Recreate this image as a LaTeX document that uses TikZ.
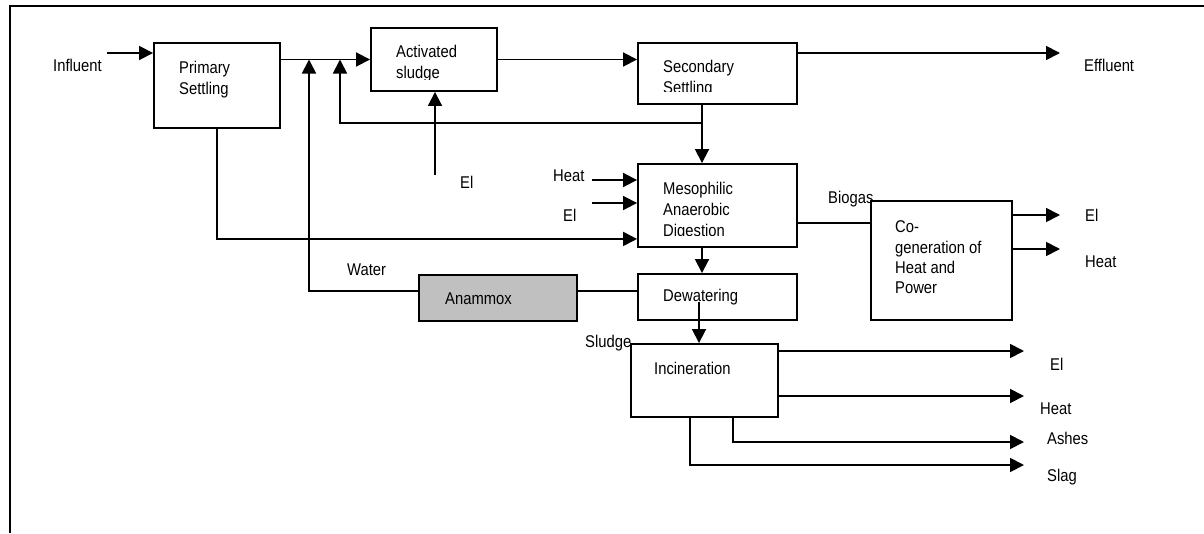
\documentclass[tikz,border=0pt]{standalone}
\usepackage{fontspec}
\setmainfont{Liberation Sans}[FakeStretch=0.87]
\usetikzlibrary{arrows.meta,positioning,calc}
\definecolor{anxFill}{HTML}{C0C0C0}

\begin{document}
\begin{tikzpicture}[x=1pt,y=-1pt,
  every node/.style={font=\fontsize{17}{21}\selectfont},
  box/.style={draw,line width=1.9pt,inner sep=0pt},
  txt/.style={anchor=west,align=left,inner sep=0pt},
  pipe/.style={line width=1.8pt},
  flow/.style={pipe,-{Triangle[length=14pt,width=14pt]}}]
  \useasboundingbox (0,0) rectangle (1204,533);
  \draw[line width=2.5pt] (1204,6) -- (10,6) -- (10,533);

  % process boxes
  \node[box,minimum width=126,minimum height=85] (ps) at (217,85.5) {};
  \node[box,minimum width=126,minimum height=63] (as) at (434,59.5) {};
  \node[box,minimum width=159,minimum height=61] (ss) at (717.5,73.5) {};
  \node[box,minimum width=159,minimum height=83] (mad) at (717.5,205.5) {};
  \node[box,minimum width=159,minimum height=46] (dw) at (717.5,297) {};
  \node[box,fill=anxFill,minimum width=158,minimum height=46] (anx) at (498,298) {};
  \node[box,minimum width=147,minimum height=73] (inc) at (704.5,380.5) {};
  \node[box,minimum width=141,minimum height=119] (chp) at (941.5,260.5) {};

  \node[txt] (psT) at (179,79.5) {Primary\\Settling};
  \begin{scope}
    \clip (380,30) rectangle (495,79);
    \node[txt] (asT) at (396,64) {Activated\\sludge};
  \end{scope}
  \begin{scope}
    \clip (640,45) rectangle (795,91);
    \node[txt] (ssT) at (663,78.5) {Secondary\\Settling};
  \end{scope}
  \begin{scope}
    \clip (640,166) rectangle (795,235);
    \node[txt] (madT) at (663,211) {Mesophilic\\Anaerobic\\Digestion};
  \end{scope}
  \node[txt] (dwT) at (663,297) {Dewatering};
  \node[txt] (anxT) at (445,299) {Anammox};
  \node[txt] (incT) at (654,368) {Incineration};
  \node[txt,font=\fontsize{17}{20.3}\selectfont] (chpT) at (895,257.5) {Co-\\generation of\\Heat and\\Power};

  % stream labels
  \node[txt] (infT) at (53,65) {Influent};
  \node[txt] (effT) at (1084,65) {Effluent};
  \node[txt] (elAT) at (460,182) {El};
  \node[txt] (htMT) at (553,176) {Heat};
  \node[txt] (elMT) at (563,215) {El};
  \node[txt] (bgT) at (828,199) {Biogas};
  \node[txt] (elCT) at (1085,215) {El};
  \node[txt] (htCT) at (1085,262) {Heat};
  \node[txt] (wtT) at (347,270) {Water};
  \node[txt] (sdT) at (585,343) {Sludge};
  \node[txt] (elIT) at (1050,364) {El};
  \node[txt] (htIT) at (1040,409) {Heat};
  \node[txt] (ashT) at (1047,438) {Ashes};
  \node[txt] (slgT) at (1047,477) {Slag};

  % free ends and junctions
  \coordinate (inA) at (107,53);
  \coordinate (effA) at (1060,53);
  \coordinate (j1) at (309,59.5);
  \coordinate (j2) at (340,59.5);
  \coordinate (ret) at (702,123);
  \coordinate (elA) at (435,175);
  \coordinate (htM) at (592,180);
  \coordinate (elM) at (592,203);
  \coordinate (slA) at (699,302);
  \coordinate (elC) at (1060,215);
  \coordinate (htC) at (1060,249);

  % water line
  \draw[flow] (inA) -- (inA -| ps.west);
  \draw[flow] (ps.east |- as.west) -- (as.west);
  \draw[flow] (as.east) -- (as.east -| ss.west);
  \draw[flow] (effA -| ss.east) -- (effA);
  \draw[flow] (ret |- ss.south) -- (ret |- mad.north);
  \draw[flow] (ret) -| (j2);
  \draw[flow] (elA) -- (elA |- as.south);

  % sludge line
  \draw[flow] (ps.south) |- ([yshift=9pt]mad.south west);
  \draw[flow] (htM) -- (htM -| mad.west);
  \draw[flow] (elM) -- (elM -| mad.west);
  \draw[flow] (ret |- mad.south) -- (ret |- dw.north);
  \draw[pipe] ([yshift=7pt]anx.east) -- ([yshift=7pt]anx.east -| dw.west);
  \draw[flow] ([yshift=7pt]anx.west) -| (j1);
  \draw[flow] (slA) -- (slA |- inc.north);
  \draw[pipe] ([yshift=-17.5pt]mad.east) -- ([yshift=-17.5pt]mad.east -| chp.west);
  \draw[flow] (elC -| chp.east) -- (elC);
  \draw[flow] (htC -| chp.east) -- (htC);

  % incineration products
  \foreach \y/\n in {351/elI,396/htI,442/ashI,465/slgI}
    \coordinate (\n) at (1024,\y);
  \draw[flow] (elI -| inc.east) -- (elI);
  \draw[flow] (htI -| inc.east) -- (htI);
  \draw[flow] ([xshift=28.5pt]inc.south) |- (ashI);
  \draw[flow] ([xshift=-14.5pt]inc.south) |- (slgI);
\end{tikzpicture}
\end{document}
